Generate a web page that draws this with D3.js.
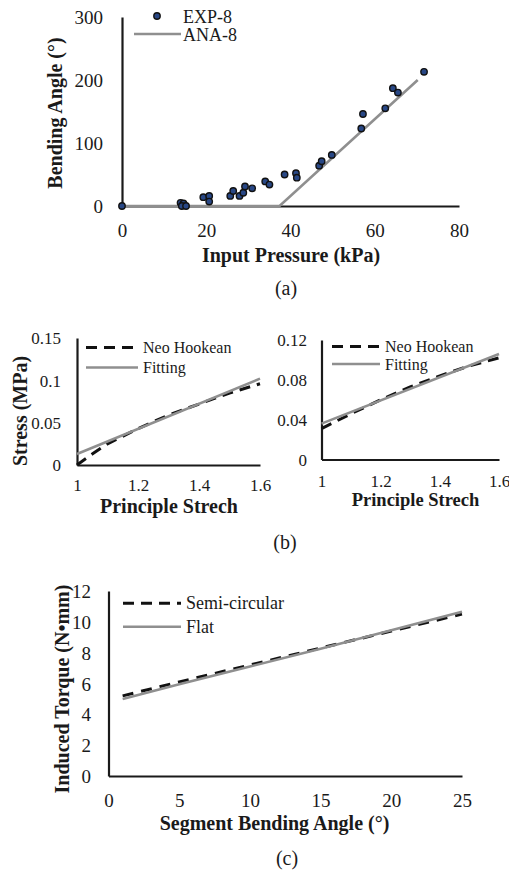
<!DOCTYPE html>
<html><head><meta charset="utf-8">
<script src="https://cdn.jsdelivr.net/npm/d3@7"></script>
<style>
body{margin:0;background:#fff}
svg{display:block}
svg text{font-family:"Liberation Serif","Times New Roman",Times,"Nimbus Roman","DejaVu Serif",serif !important;fill:#1a1a1a}
</style>
</head><body>
<svg id="chart" width="509" height="871"></svg>
<script>
// ---------- Panel (a) data ----------
const expPressure = [0, 13.9, 14.6, 14.2, 15.2, 19.3, 20.7, 20.7, 25.7, 26.4, 27.9, 28.8, 29.2, 30.9, 34.0, 35.0, 38.6, 41.3, 41.5, 46.8, 47.4, 49.8, 56.8, 57.2, 62.5, 64.3, 65.5, 71.7];
const expAngle    = [0, 5, 4, 0, 0, 14, 16, 7, 16, 24, 16, 21, 31, 28, 39, 34, 50, 52, 45, 64, 71, 81, 123, 146, 155, 187, 180, 213];
const anaPressure = [0, 37.4, 70.2];
const anaAngle    = [0, 0, 200];
const aXTicks = [0, 20, 40, 60, 80];
const aYTicks = [0, 100, 200, 300];

// ---------- Panel (b) data ----------
const stretchL  = [1, 1.05, 1.1, 1.2, 1.3, 1.4, 1.5, 1.6];
const neoL      = [0, 0.013, 0.025, 0.043, 0.059, 0.072, 0.085, 0.096];
const fitStretchL = [1, 1.6];
const fitL      = [0.013, 0.102];
const stretchR  = [1, 1.1, 1.2, 1.3, 1.4, 1.5, 1.6];
const neoR      = [0.031, 0.046, 0.060, 0.073, 0.084, 0.094, 0.102];
const fitStretchR = [1, 1.6];
const fitR      = [0.036, 0.106];
const bXTicks  = [1, 1.2, 1.4, 1.6];
const bLYTicks = [0, 0.05, 0.1, 0.15];
const bRYTicks = [0, 0.04, 0.08, 0.12];

// ---------- Panel (c) data ----------
const segAngle   = [1, 5, 10, 15, 20, 25];
const semiTorque = [5.2, 6.1, 7.2, 8.3, 9.4, 10.5];
const flatTorque = [5.0, 5.95, 7.1, 8.25, 9.45, 10.65];
const cXTicks = [0, 5, 10, 15, 20, 25];
const cYTicks = [0, 2, 4, 6, 8, 10, 12];

const FONT = '"Liberation Serif","Times New Roman",Times,"Nimbus Roman","DejaVu Serif",serif';
const svg = d3.select("#chart");
const AXIS = "#1a1a1a", GREY = "#8f8f8f", DASH = "#111";

function drawAxes(g, x, y, xt, yt, o) {
  const ya = g.append("g").attr("transform", `translate(${x.range()[0]},0)`)
    .call(d3.axisLeft(y).tickValues(yt).tickSize(0).tickSizeOuter(0).tickPadding(o.yPad).tickFormat(d => String(d)));
  const xa = g.append("g").attr("transform", `translate(0,${y.range()[0]})`)
    .call(d3.axisBottom(x).tickValues(xt).tickSize(0).tickSizeOuter(0).tickFormat(d => String(d)));
  [ya, xa].forEach(a => {
    a.attr("font-family", FONT);
    a.select(".domain").attr("stroke", AXIS).attr("stroke-width", 2.2);
    a.selectAll("text").attr("font-size", o.tickSize).attr("fill", "#1a1a1a").attr("font-family", FONT);
  });
  xa.selectAll("text").attr("y", o.xOff).attr("dy", "0.35em");
  ya.selectAll("text").attr("dy", "0.35em");
}
function pairs(xs, ys) { return xs.map((v, i) => [v, ys[i]]); }
function title(txt, x, y, size, rot) {
  const t = svg.append("text").text(txt).attr("font-size", size).attr("font-weight", "bold")
    .attr("font-family", FONT).attr("text-anchor", "middle").attr("dominant-baseline", "central");
  if (rot) t.attr("transform", `translate(${x},${y}) rotate(-90)`);
  else t.attr("x", x).attr("y", y);
}
function label(txt, x, y, size) {
  svg.append("text").text(txt).attr("x", x).attr("y", y).attr("font-size", size).attr("font-family", FONT)
    .attr("text-anchor", "middle").attr("dominant-baseline", "central");
}
function legendLine(x1, x2, y, dashed, txt, size) {
  svg.append("line").attr("x1", x1).attr("x2", x2).attr("y1", y).attr("y2", y)
    .attr("stroke", dashed ? DASH : GREY).attr("stroke-width", dashed ? 3 : 2.6)
    .attr("stroke-dasharray", dashed ? "11,7" : null);
  svg.append("text").text(txt).attr("x", x2 + 5).attr("y", y).attr("font-size", size).attr("font-family", FONT)
    .attr("dominant-baseline", "central");
}

// ================= Panel (a) =================
{
  const x = d3.scaleLinear().domain([0, 80]).range([122, 459]);
  const y = d3.scaleLinear().domain([0, 300]).range([206, 17]);
  const g = svg.append("g");
  drawAxes(g, x, y, aXTicks, aYTicks, {yPad: 19, tickSize: 19, xOff: 24});
  const line = d3.line().x(d => x(d[0])).y(d => y(d[1]));
  g.append("path").datum(pairs(anaPressure, anaAngle)).attr("d", line)
    .attr("fill", "none").attr("stroke", GREY).attr("stroke-width", 2.6);
  g.selectAll("circle.exp").data(pairs(expPressure, expAngle)).join("circle")
    .attr("class", "exp").attr("cx", d => x(d[0])).attr("cy", d => y(d[1])).attr("r", 3.2)
    .attr("fill", "#284785").attr("stroke", "#111").attr("stroke-width", 1.4);
  svg.append("circle").attr("cx", 157).attr("cy", 16).attr("r", 3.2)
    .attr("fill", "#284785").attr("stroke", "#111").attr("stroke-width", 1.4);
  svg.append("text").text("EXP-8").attr("x", 183).attr("y", 16.5).attr("font-size", 18)
    .attr("font-family", FONT).attr("dominant-baseline", "central");
  svg.append("line").attr("x1", 134).attr("x2", 181).attr("y1", 34).attr("y2", 34)
    .attr("stroke", GREY).attr("stroke-width", 2.6);
  svg.append("text").text("ANA-8").attr("x", 183).attr("y", 35).attr("font-size", 18)
    .attr("font-family", FONT).attr("dominant-baseline", "central");
  title("Bending Angle (°)", 55, 113, 20, true);
  title("Input Pressure (kPa)", 291, 255, 20, false);
  label("(a)", 286, 288, 20);
}

// ================= Panel (b) left =================
{
  const x = d3.scaleLinear().domain([1, 1.6]).range([77, 260]);
  const y = d3.scaleLinear().domain([0, 0.15]).range([465, 338]);
  const g = svg.append("g");
  drawAxes(g, x, y, bXTicks, bLYTicks, {yPad: 16, tickSize: 17, xOff: 20});
  const line = d3.line().x(d => x(d[0])).y(d => y(d[1]));
  g.append("path").datum(pairs(stretchL, neoL)).attr("d", line)
    .attr("fill", "none").attr("stroke", DASH).attr("stroke-width", 3).attr("stroke-dasharray", "11,7");
  g.append("path").datum(pairs(fitStretchL, fitL)).attr("d", line)
    .attr("fill", "none").attr("stroke", GREY).attr("stroke-width", 2.6);
  legendLine(86, 138, 347.5, true, "Neo Hookean", 16);
  legendLine(86, 138, 367.5, false, "Fitting", 16);
  title("Stress (MPa)", 20, 411, 20, true);
  title("Principle Strech", 169, 506, 20, false);
}

// ================= Panel (b) right =================
{
  const x = d3.scaleLinear().domain([1, 1.6]).range([321.5, 499]);
  const y = d3.scaleLinear().domain([0, 0.12]).range([459.5, 340]);
  const g = svg.append("g");
  drawAxes(g, x, y, bXTicks, bRYTicks, {yPad: 14.5, tickSize: 17, xOff: 21.5});
  const line = d3.line().x(d => x(d[0])).y(d => y(d[1]));
  g.append("path").datum(pairs(stretchR, neoR)).attr("d", line)
    .attr("fill", "none").attr("stroke", DASH).attr("stroke-width", 3).attr("stroke-dasharray", "11,7");
  g.append("path").datum(pairs(fitStretchR, fitR)).attr("d", line)
    .attr("fill", "none").attr("stroke", GREY).attr("stroke-width", 2.6);
  legendLine(332, 380, 346.5, true, "Neo Hookean", 16);
  legendLine(332, 380, 364, false, "Fitting", 16);
  title("Principle Strech", 415.5, 500, 18.5, false);
  label("(b)", 285, 542, 20);
}

// ================= Panel (c) =================
{
  const x = d3.scaleLinear().domain([0, 25]).range([108.5, 462]);
  const y = d3.scaleLinear().domain([0, 12]).range([776, 591]);
  const g = svg.append("g");
  drawAxes(g, x, y, cXTicks, cYTicks, {yPad: 17.5, tickSize: 19, xOff: 24});
  const line = d3.line().x(d => x(d[0])).y(d => y(d[1]));
  g.append("path").datum(pairs(segAngle, semiTorque)).attr("d", line)
    .attr("fill", "none").attr("stroke", DASH).attr("stroke-width", 3).attr("stroke-dasharray", "11,8");
  g.append("path").datum(pairs(segAngle, flatTorque)).attr("d", line)
    .attr("fill", "none").attr("stroke", GREY).attr("stroke-width", 2.6);
  legendLine(123, 181, 603.3, true, "Semi-circular", 18);
  legendLine(123, 181, 626.7, false, "Flat", 18);
  title("Induced Torque (N•mm)", 62, 689, 20, true);
  title("Segment Bending Angle (°)", 274.5, 823, 20, false);
  label("(c)", 287, 858, 20);
}
</script>
</body></html>
